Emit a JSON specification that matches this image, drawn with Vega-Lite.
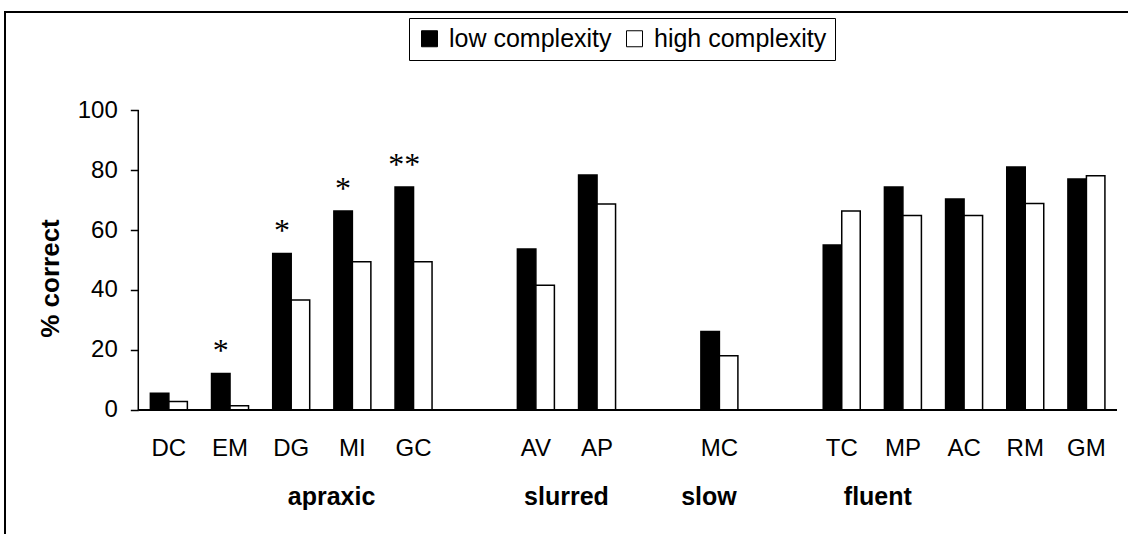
{
  "$schema": "https://vega.github.io/schema/vega-lite/v6.json",
  "width": 1133,
  "height": 532,
  "autosize": {"type": "none"},
  "padding": {"left": 5, "top": 12, "right": -10, "bottom": -10},
  "background": "white",
  "config": {
    "view": {"stroke": "black", "strokeWidth": 2},
    "font": "Liberation Sans",
    "axis": {"grid": false}
  },
  "data": {
    "values": [
      {"cat": "DC", "series": "low complexity", "value": 5.6, "sig": ""},
      {"cat": "DC", "series": "high complexity", "value": 2.8, "sig": ""},
      {"cat": "EM", "series": "low complexity", "value": 12.2, "sig": "*"},
      {"cat": "EM", "series": "high complexity", "value": 1.4, "sig": ""},
      {"cat": "DG", "series": "low complexity", "value": 52.2, "sig": "*"},
      {"cat": "DG", "series": "high complexity", "value": 36.7, "sig": ""},
      {"cat": "MI", "series": "low complexity", "value": 66.3, "sig": "*"},
      {"cat": "MI", "series": "high complexity", "value": 49.4, "sig": ""},
      {"cat": "GC", "series": "low complexity", "value": 74.3, "sig": "**"},
      {"cat": "GC", "series": "high complexity", "value": 49.4, "sig": ""},
      {"cat": "AV", "series": "low complexity", "value": 53.7, "sig": ""},
      {"cat": "AV", "series": "high complexity", "value": 41.6, "sig": ""},
      {"cat": "AP", "series": "low complexity", "value": 78.3, "sig": ""},
      {"cat": "AP", "series": "high complexity", "value": 68.7, "sig": ""},
      {"cat": "MC", "series": "low complexity", "value": 26.2, "sig": ""},
      {"cat": "MC", "series": "high complexity", "value": 18.1, "sig": ""},
      {"cat": "TC", "series": "low complexity", "value": 55.0, "sig": ""},
      {"cat": "TC", "series": "high complexity", "value": 66.3, "sig": ""},
      {"cat": "MP", "series": "low complexity", "value": 74.3, "sig": ""},
      {"cat": "MP", "series": "high complexity", "value": 64.8, "sig": ""},
      {"cat": "AC", "series": "low complexity", "value": 70.3, "sig": ""},
      {"cat": "AC", "series": "high complexity", "value": 64.8, "sig": ""},
      {"cat": "RM", "series": "low complexity", "value": 81.0, "sig": ""},
      {"cat": "RM", "series": "high complexity", "value": 68.8, "sig": ""},
      {"cat": "GM", "series": "low complexity", "value": 77.0, "sig": ""},
      {"cat": "GM", "series": "high complexity", "value": 78.1, "sig": ""}
    ]
  },
  "layer": [
    {
      "mark": {"type": "bar", "stroke": "black", "strokeWidth": 1.5},
      "encoding": {
        "x": {
          "field": "cat",
          "type": "nominal",
          "scale": {
            "domain": ["    ", "DC", "EM", "DG", "MI", "GC", " ", "AV", "AP", "  ", "MC", "   ", "TC", "MP", "AC", "RM", "GM"],
            "paddingInner": 0,
            "paddingOuter": 0.761,
            "align": 0.7745
          },
          "axis": {
            "orient": "bottom",
            "offset": -134,
            "domain": false,
            "ticks": false,
            "tickSize": 0,
            "labelFont": "Liberation Sans",
            "labelFontSize": 24,
            "labelColor": "black",
            "labelPadding": 26,
            "labelAngle": 0,
            "title": null
          }
        },
        "xOffset": {
          "field": "series",
          "type": "nominal",
          "scale": {"domain": ["low complexity", "high complexity"], "paddingInner": 0, "paddingOuter": 0.653}
        },
        "y": {
          "field": "value",
          "type": "quantitative",
          "scale": {"domain": [-44.667, 132.667], "nice": false, "zero": false},
          "axis": {
            "orient": "left",
            "offset": -133.3,
            "values": [0, 20, 40, 60, 80, 100],
            "domain": false,
            "ticks": true,
            "tickSize": 8,
            "tickColor": "black",
            "tickWidth": 1.5,
            "labelFont": "Liberation Sans",
            "labelFontSize": 24,
            "labelColor": "black",
            "labelPadding": 13,
            "title": "% correct",
            "titleFont": "Liberation Sans",
            "titleFontSize": 26,
            "titleFontWeight": "bold",
            "titleColor": "black",
            "titlePadding": 14
          }
        },
        "y2": {"datum": 0},
        "fill": {
          "field": "series",
          "type": "nominal",
          "scale": {"domain": ["low complexity", "high complexity"], "range": ["black", "white"]},
          "legend": {
            "title": null,
            "orient": "none",
            "legendX": 404,
            "legendY": 6,
            "direction": "horizontal",
            "strokeColor": "black",
            "fillColor": "white",
            "padding": 8,
            "symbolType": "square",
            "symbolSize": 256,
            "symbolStrokeColor": "black",
            "symbolStrokeWidth": 1,
            "labelFont": "Liberation Sans",
            "labelFontSize": 25,
            "labelColor": "black",
            "labelLimit": 400,
            "labelOffset": 7,
            "columnPadding": 10
          }
        }
      }
    },
    {
      "data": {"values": [{"axis": "y"}]},
      "mark": {"type": "rule", "stroke": "black", "strokeWidth": 1.5},
      "encoding": {
        "x": {"datum": "DC", "type": "nominal", "bandPosition": 0},
        "y": {"datum": 0, "type": "quantitative"},
        "y2": {"datum": 100}
      }
    },
    {
      "data": {"values": [{"axis": "x"}]},
      "mark": {"type": "rule", "stroke": "black", "strokeWidth": 2},
      "encoding": {
        "x": {"datum": "DC", "type": "nominal", "bandPosition": 0},
        "x2": {"datum": "GM", "bandPosition": 1},
        "y": {"datum": 0, "type": "quantitative"}
      }
    },
    {
      "transform": [{"filter": "datum.sig != ''"}],
      "mark": {"type": "text", "font": "Liberation Serif", "fontSize": 32, "baseline": "alphabetic", "dy": -12, "color": "black"},
      "encoding": {
        "x": {"field": "cat", "type": "nominal"},
        "xOffset": {"field": "series", "type": "nominal"},
        "y": {"field": "value", "type": "quantitative"},
        "text": {"field": "sig"}
      }
    },
    {
      "data": {"values": [{"group": "apraxic"}]},
      "mark": {"type": "text", "font": "Liberation Sans", "fontSize": 25, "fontWeight": "bold", "baseline": "middle", "color": "black"},
      "encoding": {
        "x": {"datum": "MI", "type": "nominal", "bandPosition": 0.16},
        "y": {"datum": -29, "type": "quantitative"},
        "text": {"field": "group"}
      }
    },
    {
      "data": {"values": [{"group": "slurred"}]},
      "mark": {"type": "text", "font": "Liberation Sans", "fontSize": 25, "fontWeight": "bold", "baseline": "middle", "color": "black"},
      "encoding": {
        "x": {"datum": "AP", "type": "nominal", "bandPosition": 0},
        "y": {"datum": -29, "type": "quantitative"},
        "text": {"field": "group"}
      }
    },
    {
      "data": {"values": [{"group": "slow"}]},
      "mark": {"type": "text", "font": "Liberation Sans", "fontSize": 25, "fontWeight": "bold", "baseline": "middle", "color": "black"},
      "encoding": {
        "x": {"datum": "MC", "type": "nominal", "bandPosition": 0.33},
        "y": {"datum": -29, "type": "quantitative"},
        "text": {"field": "group"}
      }
    },
    {
      "data": {"values": [{"group": "fluent"}]},
      "mark": {"type": "text", "font": "Liberation Sans", "fontSize": 25, "fontWeight": "bold", "baseline": "middle", "color": "black"},
      "encoding": {
        "x": {"datum": "MP", "type": "nominal", "bandPosition": 0.09},
        "y": {"datum": -29, "type": "quantitative"},
        "text": {"field": "group"}
      }
    }
  ]
}
